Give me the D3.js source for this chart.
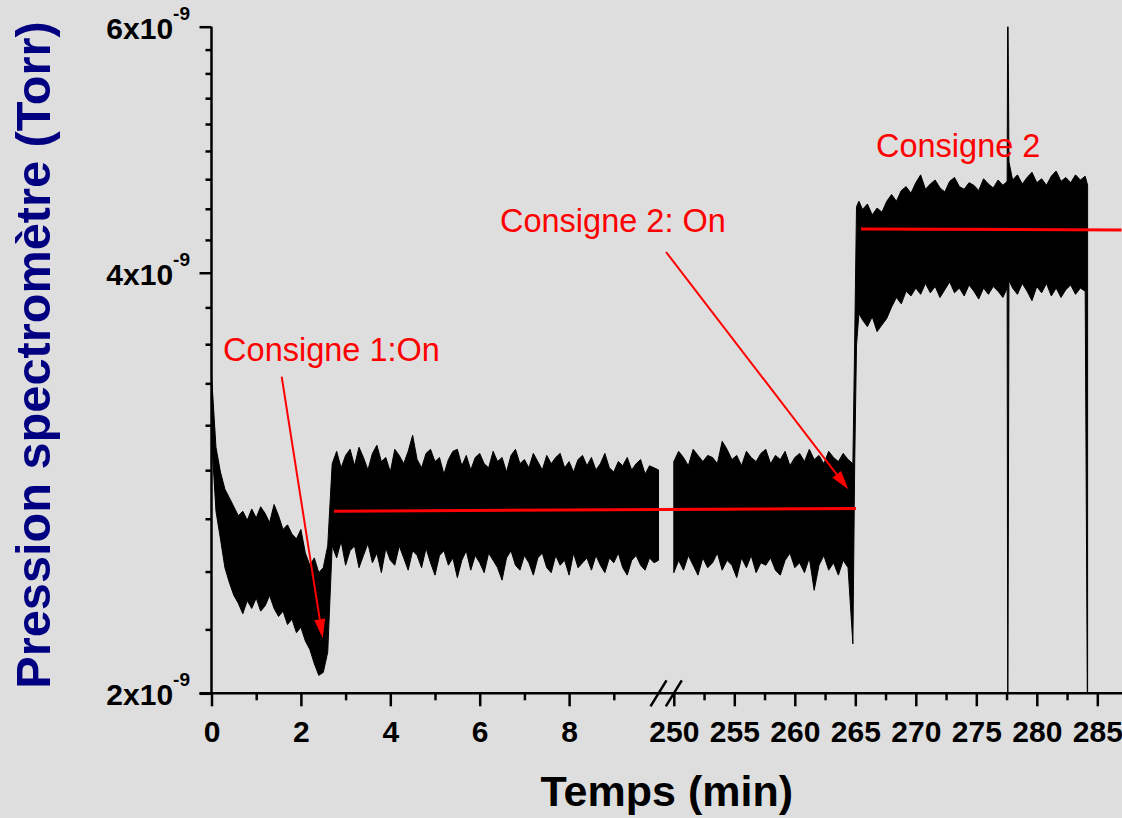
<!DOCTYPE html>
<html><head><meta charset="utf-8">
<script src="https://cdn.jsdelivr.net/npm/d3@7"></script>
<style>
html,body{margin:0;padding:0;background:#dedede;overflow:hidden}
text{font-family:"Liberation Sans",Arial,Helvetica,sans-serif}
</style>
</head><body>
<svg id="c" width="1122" height="818"></svg>
<script>
// ---------------- DATA (pressure in units of 1e-9 Torr) ----------------
// Segment 1: 0 - 10 min (envelope of the noisy trace: high / low)
const seg1Time = [0.0,0.1,0.2,0.3,0.4,0.5,0.6,0.7,0.8,0.9,1.0,1.1,1.2,1.3,1.4,1.5,1.6,1.7,1.8,1.9,
  2.0,2.1,2.2,2.3,2.4,2.5,2.6,2.7,2.8,2.9,3.0,3.1,3.2,3.3,3.4,3.5,3.6,3.7,3.8,3.9,
  4.0,4.1,4.2,4.3,4.4,4.5,4.6,4.7,4.8,4.9,5.0,5.1,5.2,5.3,5.4,5.5,5.6,5.7,5.8,5.9,
  6.0,6.1,6.2,6.3,6.4,6.5,6.6,6.7,6.8,6.9,7.0,7.1,7.2,7.3,7.4,7.5,7.6,7.7,7.8,7.9,
  8.0,8.1,8.2,8.3,8.4,8.5,8.6,8.7,8.8,8.9,9.0,9.1,9.2,9.3,9.4,9.5,9.6,9.7,9.8,9.9,10.0];
const seg1High = [3.38,3.00,2.88,2.80,2.76,2.72,2.68,2.70,2.66,2.71,2.67,2.72,2.69,2.65,2.73,2.68,2.62,2.64,2.60,2.58,
  2.62,2.52,2.47,2.50,2.44,2.46,2.55,
  2.92,2.98,2.90,2.96,2.99,2.91,3.00,2.95,2.89,2.97,
  3.01,2.93,2.95,2.88,2.99,2.96,2.92,2.98,3.06,2.94,
  2.90,2.97,2.99,2.93,2.95,2.87,2.94,2.98,2.99,2.91,
  2.96,2.89,2.95,2.97,2.92,2.90,2.98,2.93,2.95,2.88,
  2.96,2.99,2.92,2.94,2.90,2.97,2.93,2.89,2.96,2.92,
  2.95,2.97,2.90,2.93,2.88,2.94,2.96,2.91,2.95,2.89,
  2.92,2.97,2.90,2.88,2.93,2.91,2.95,2.89,2.92,2.94,
  2.87,2.91,2.90,2.89];
const seg1Low = [3.05,2.70,2.58,2.46,2.40,2.35,2.32,2.28,2.33,2.30,2.34,2.29,2.31,2.35,2.30,2.27,2.29,2.24,2.26,2.21,
  2.23,2.18,2.15,2.10,2.06,2.07,2.14,
  2.55,2.50,2.57,2.47,2.53,2.55,2.46,2.51,2.56,2.48,
  2.52,2.44,2.54,2.49,2.47,2.55,2.50,2.45,2.53,2.51,
  2.46,2.54,2.48,2.43,2.51,2.53,2.47,2.50,2.42,2.49,
  2.53,2.45,2.51,2.48,2.44,2.52,2.49,2.46,2.41,2.50,
  2.53,2.47,2.45,2.51,2.48,2.43,2.50,2.52,2.46,2.44,
  2.51,2.47,2.49,2.43,2.52,2.46,2.48,2.50,2.45,2.51,
  2.47,2.44,2.50,2.48,2.52,2.46,2.43,2.49,2.51,2.47,
  2.45,2.50,2.48,2.49];

// Segment 2: 250 - 287 min
const seg2Time = [250.0,250.4,250.8,251.2,251.6,252.0,252.4,252.8,253.2,253.6,254.0,254.4,254.8,255.2,255.6,256.0,
  256.4,256.8,257.2,257.6,258.0,258.4,258.8,259.2,259.6,260.0,260.4,260.8,261.2,261.6,262.0,262.4,262.8,263.2,
  263.6,264.0,264.4,264.8,264.95,265.1,265.3,265.6,266.0,266.4,266.8,267.2,267.6,268.0,268.4,268.8,269.2,269.6,
  270.0,270.4,270.8,271.2,271.6,272.0,272.4,272.8,273.2,273.6,274.0,274.4,274.8,275.2,275.6,276.0,276.4,276.8,
  277.2,277.55,277.6,277.7,278.0,278.4,278.8,279.2,279.6,280.0,280.4,280.8,281.2,281.6,282.0,282.4,282.8,283.2,
  283.6,284.0,284.2];
const seg2High = [2.93,2.98,2.95,2.91,2.99,2.96,2.93,2.96,2.95,2.92,
  3.03,2.99,2.94,2.96,2.91,2.98,2.95,2.93,2.97,2.99,
  2.92,2.96,2.94,2.98,2.91,2.95,2.97,2.93,2.99,2.94,
  2.96,2.92,2.98,2.95,2.93,2.97,2.94,2.92,
  3.58,4.46,4.50,4.44,4.48,4.40,4.45,4.42,4.50,
  4.55,4.50,4.58,4.61,4.56,4.64,4.70,4.59,4.63,4.66,4.60,4.57,
  4.65,4.68,4.61,4.59,4.64,4.62,4.58,4.67,4.63,4.60,4.66,4.62,
  4.65,6.50,4.80,
  4.66,4.70,4.63,4.68,4.72,4.64,4.67,4.62,4.69,4.73,4.65,4.68,4.64,4.70,4.66,4.69,
  4.62];
const seg2Low = [2.44,2.49,2.45,2.51,2.47,2.43,2.50,2.46,2.48,2.52,
  2.45,2.49,2.47,2.42,2.50,2.46,2.51,2.44,2.48,2.47,
  2.50,2.45,2.43,2.49,2.52,2.46,2.48,2.44,2.50,2.37,
  2.47,2.51,2.45,2.48,2.43,2.49,2.46,2.17,
  2.92,3.55,3.74,3.70,3.66,3.72,3.63,3.67,3.71,
  3.78,3.84,3.80,3.88,3.85,3.90,3.86,3.93,3.87,3.91,3.84,3.89,
  3.94,3.87,3.90,3.85,3.92,3.88,3.83,3.90,3.86,3.91,3.88,3.84,
  3.90,1.80,3.95,
  3.90,3.86,3.93,3.88,3.82,3.91,3.87,3.93,3.85,3.90,3.84,3.89,3.92,3.86,3.90,3.88,
  1.80];

// Mean levels (red lines): [segment, time] start / end and level
const meanStartSeg = [1, 2];
const meanStartTime = [2.74, 265.47];
const meanEndSeg = [2, 2];
const meanEndTime = [265.06, 287.0];
const meanStartLevel = [2.700, 4.299];
const meanEndLevel = [2.712, 4.292];

// Annotations
const annoText = ["Consigne 1:On", "Consigne 2: On", "Consigne 2"];
const annoSeg = [1, 1, 2];
const annoTime = [0.26, 6.454, 266.71];
const annoLevel = [3.458, 4.278, 4.839];
// arrows: start (seg,time,level) -> tip (seg,time,level)
const arrowFromSeg = [1, 2], arrowFromTime = [1.57, 249.36], arrowFromLevel = [3.37, 4.139];
const arrowToSeg = [1, 2], arrowToTime = [2.488, 264.42], arrowToLevel = [2.19, 2.799];

// Axes
const xMajor1 = [0, 2, 4, 6, 8];
const xMinor1 = [1, 3, 5, 7, 9];
const xMajor2 = [250, 255, 260, 265, 270, 275, 280, 285];
const xMinor2 = [252.5, 257.5, 262.5, 267.5, 272.5, 277.5, 282.5];
const yMajor = [2, 4, 6];
const yMajorLabels = ["2x10", "4x10", "6x10"];
const yExponent = "-9";
const yMinorCount = 8;
const xTitle = "Temps (min)";
const yTitle = "Pression spectromètre (Torr)";

// ---------------- CHART ----------------
const svg = d3.select("#c");
const W = 1122, H = 818;
svg.append("rect").attr("width", W).attr("height", H).attr("fill", "#dedede");

const x1 = d3.scaleLinear().domain([0, 10]).range([211.5, 658.5]);
const x2 = d3.scaleLinear().domain([250, 287]).range([673.8, 1121.5]);
const y = d3.scaleLog().domain([2, 6]).range([693.3, 26.7]);
const xs = s => (s === 1 ? x1 : x2);
const Y0 = y(2), XL = x1(0);

const defs = svg.append("defs");
defs.append("clipPath").attr("id", "plot").append("rect")
  .attr("x", XL).attr("y", y(6)).attr("width", W - XL).attr("height", Y0 - y(6));

const dataG = svg.append("g").attr("clip-path", "url(#plot)");
function drawSeg(xScale, T, Hi, Lo) {
  const pts = T.map((t, i) => ({t, hi: Hi[i], lo: Lo[i]}));
  const area = d3.area().x(d => xScale(d.t)).y0(d => y(d.lo)).y1(d => y(d.hi));
  dataG.append("path").attr("d", area(pts))
    .attr("fill", "#000").attr("stroke", "#000").attr("stroke-width", 1);
}
drawSeg(x1, seg1Time, seg1High, seg1Low);
drawSeg(x2, seg2Time, seg2High, seg2Low);

// red mean lines
meanStartSeg.forEach((s, i) => {
  svg.append("line")
    .attr("x1", xs(s)(meanStartTime[i])).attr("y1", y(meanStartLevel[i]))
    .attr("x2", Math.min(W, xs(meanEndSeg[i])(meanEndTime[i]))).attr("y2", y(meanEndLevel[i]))
    .attr("stroke", "#ff0000").attr("stroke-width", 3);
});

// axes
const axG = svg.append("g");
const axisStyle = g => {
  g.select(".domain").remove();
  g.selectAll("line").attr("stroke", "#000").attr("stroke-width", 2.5);
  g.selectAll("text").attr("fill", "#000").attr("font-weight", "bold").attr("font-size", 30)
    .attr("font-family", '"Liberation Sans",Arial,sans-serif');
};
axG.append("g").attr("transform", `translate(0,${Y0})`)
  .call(d3.axisBottom(x1).tickValues(xMajor1).tickSize(13).tickPadding(14).tickFormat(d3.format("d"))).call(axisStyle);
axG.append("g").attr("transform", `translate(0,${Y0})`)
  .call(d3.axisBottom(x1).tickValues(xMinor1).tickSize(7).tickFormat("")).call(axisStyle);
axG.append("g").attr("transform", `translate(0,${Y0})`)
  .call(d3.axisBottom(x2).tickValues(xMajor2).tickSize(13).tickPadding(14).tickFormat(d3.format("d"))).call(axisStyle);
axG.append("g").attr("transform", `translate(0,${Y0})`)
  .call(d3.axisBottom(x2).tickValues(xMinor2).tickSize(7).tickFormat("")).call(axisStyle);

const yMinor = [];
for (let k = 0; k < yMajor.length - 1; k++) {
  const step = (yMajor[k + 1] - yMajor[k]) / (yMinorCount + 1);
  for (let j = 1; j <= yMinorCount; j++) yMinor.push(yMajor[k] + j * step);
}
axG.append("g").attr("transform", `translate(${XL},0)`)
  .call(d3.axisLeft(y).tickValues(yMajor).tickSize(12).tickFormat("")).call(axisStyle);
axG.append("g").attr("transform", `translate(${XL},0)`)
  .call(d3.axisLeft(y).tickValues(yMinor).tickSize(6).tickFormat("")).call(axisStyle);

// y tick labels with superscript
yMajor.forEach((v, i) => {
  const t = axG.append("text").attr("x", 190).attr("y", y(v) + 12)
    .attr("text-anchor", "end").attr("font-weight", "bold").attr("font-size", 30).attr("fill", "#000");
  t.append("tspan").text(yMajorLabels[i]);
  t.append("tspan").attr("font-size", 19).attr("dy", -19).text(yExponent);
});

// axis lines
axG.append("line").attr("x1", XL).attr("x2", XL).attr("y1", y(6)).attr("y2", Y0 + 1.25)
  .attr("stroke", "#000").attr("stroke-width", 2.5);
axG.append("line").attr("x1", XL - 12).attr("x2", W).attr("y1", Y0).attr("y2", Y0)
  .attr("stroke", "#000").attr("stroke-width", 2.5);

// break marks
[x1(10), x2(250)].forEach(cx => {
  axG.append("line").attr("x1", cx - 8).attr("y1", Y0 + 13).attr("x2", cx + 8).attr("y2", Y0 - 13)
    .attr("stroke", "#000").attr("stroke-width", 2.5);
});

// axis titles
svg.append("text").attr("x", (XL + W) / 2).attr("y", 806).attr("text-anchor", "middle")
  .attr("font-weight", "bold").attr("font-size", 43).attr("fill", "#000").text(xTitle);
svg.append("text").attr("transform", `translate(50,355) rotate(-90)`).attr("text-anchor", "middle")
  .attr("font-weight", "bold").attr("font-size", 48.7).attr("fill", "#000080").text(yTitle);

// arrows
arrowFromSeg.forEach((s, i) => {
  const xa = xs(s)(arrowFromTime[i]), ya = y(arrowFromLevel[i]);
  const xb = xs(arrowToSeg[i])(arrowToTime[i]), yb = y(arrowToLevel[i]);
  const dx = xb - xa, dy = yb - ya, L = Math.hypot(dx, dy);
  const ux = dx / L, uy = dy / L, hl = 19, hw = 5.5;
  const bx = xb - ux * hl, by = yb - uy * hl;
  svg.append("line").attr("x1", xa).attr("y1", ya).attr("x2", bx).attr("y2", by)
    .attr("stroke", "#ff0000").attr("stroke-width", 2);
  svg.append("polygon")
    .attr("points", [[xb, yb], [bx - uy * hw, by + ux * hw], [bx + uy * hw, by - ux * hw]].map(p => p.join(",")).join(" "))
    .attr("fill", "#ff0000");
});

// annotation texts
annoText.forEach((t, i) => {
  svg.append("text").attr("x", xs(annoSeg[i])(annoTime[i])).attr("y", y(annoLevel[i]))
    .attr("font-size", 32.5).attr("fill", "#ff0000").text(t);
});
</script>
</body></html>
